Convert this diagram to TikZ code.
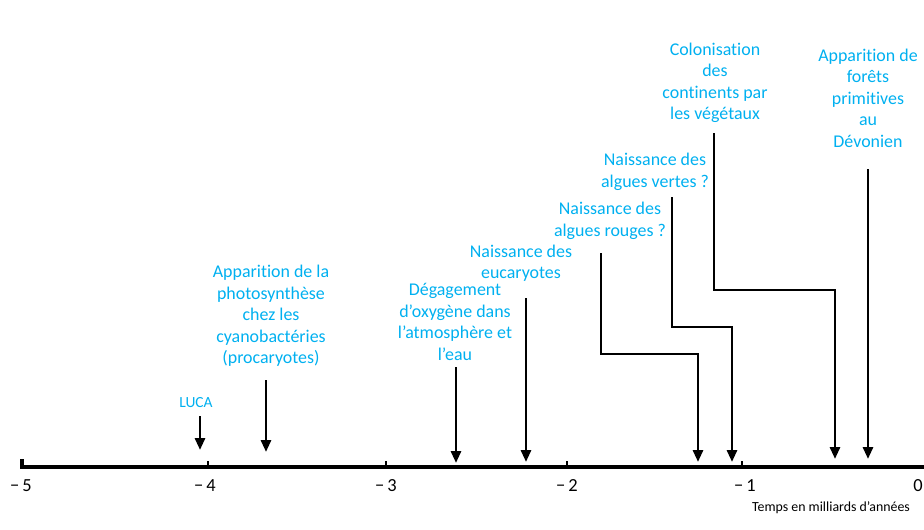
\documentclass[tikz,border=0pt]{standalone}
\usepackage{fontspec}
\setmainfont[Ligatures=CommonOff]{Carlito}
\usetikzlibrary{arrows.meta}
\definecolor{skyblue}{HTML}{00B0F0}

\begin{document}
\begin{tikzpicture}[x=0.02cm,y=-0.02cm,
  txt/.style={text=skyblue,align=center,font=\fontsize{10.2}{12.2}\selectfont},
  evt/.style={line width=1.6pt,-{Triangle[length=2.4mm,width=2mm]}}]
\useasboundingbox (0,0) rectangle (924,529);
% time axis
\draw[line width=2.4pt] (22,459) -- (22,467) -- (924,467);
\foreach \x in {208,386,567,742}
  \draw[line width=1.2pt] (\x,467) -- (\x,461);
\foreach \x/\a in {21/5,205/4,386/3,567/2,745/1}
  \node[font=\fontsize{10.5}{12}\selectfont] (lab\a) at (\x,486) {−\,\a};
\node[font=\fontsize{10.5}{12}\selectfont] (lab0) at (918,486) {0};
\node[font=\fontsize{7.9}{9}\selectfont] (unit) at (831,508) {Temps en milliards d’années};
% events
\node[txt,font=\fontsize{8.8}{10}\selectfont] (luca) at (196,403) {LUCA};
\node[txt] (photo) at (271,316) {Apparition de la\\photosynthèse\\chez les\\cyanobactéries\\(procaryotes)};
\node[txt] (oxy) at (455,322) {Dégagement\\d’oxygène dans\\l’atmosphère et\\l’eau};
\node[txt] (euca) at (521,263) {Naissance des\\eucaryotes};
\node[txt] (rouges) at (610,221) {Naissance des\\algues rouges ?};
\node[txt] (vertes) at (655,172) {Naissance des\\algues vertes ?};
\node[txt] (colon) at (715,83) {Colonisation\\des\\continents par\\les végétaux};
\node[txt] (devon) at (868,98) {Apparition de\\forêts\\primitives\\au\\Dévonien};
% arrows
\coordinate (lucaTop) at (200,416);   \coordinate (lucaTip) at (200,450);
\coordinate (photoTop) at (266,380);  \coordinate (photoTip) at (266,452);
\coordinate (oxyTop) at (456,367);    \coordinate (oxyTip) at (456,463);
\coordinate (eucaTop) at (526,298);   \coordinate (eucaTip) at (526,462);
\coordinate (rougesTop) at (601,253); \coordinate (rougesTip) at (698,462);
\coordinate (vertesTop) at (672,197); \coordinate (vertesTip) at (732,462);
\coordinate (colonTop) at (714,133);  \coordinate (colonTip) at (835,459);
\coordinate (devonTop) at (868,169);  \coordinate (devonTip) at (868,459);
\draw[evt] (lucaTop) -- (lucaTip);
\draw[evt] (photoTop) -- (photoTip);
\draw[evt] (oxyTop) -- (oxyTip);
\draw[evt] (eucaTop) -- (eucaTip);
\draw[evt] (rougesTop) -- ++(0,101) -| (rougesTip);
\draw[evt] (vertesTop) -- ++(0,130) -| (vertesTip);
\draw[evt] (colonTop) -- ++(0,157) -| (colonTip);
\draw[evt] (devonTop) -- (devonTip);
\end{tikzpicture}
\end{document}
